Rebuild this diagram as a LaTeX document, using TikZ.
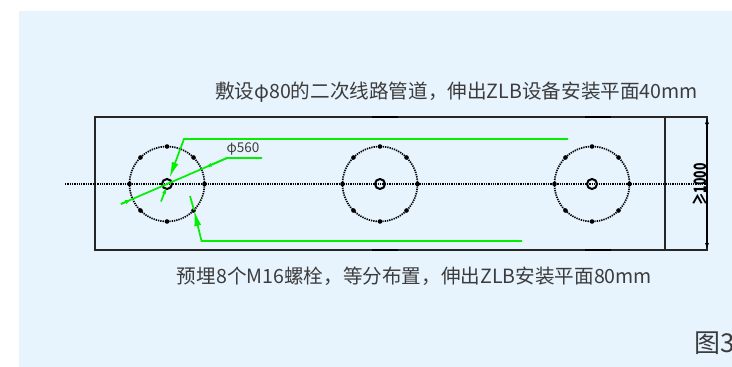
\documentclass[tikz,border=0pt]{standalone}
\usepackage{fontspec}
\setmainfont{Noto Sans CJK SC}
\usetikzlibrary{arrows.meta}
\definecolor{panelblue}{RGB}{231,243,253}
\definecolor{leadgreen}{RGB}{0,240,0}
\definecolor{textgray}{RGB}{60,60,60}
\tikzset{
  outline/.style={line width=1.5pt, draw=black!85},
  centerdots/.style={line width=1.7pt, black, dash pattern=on 1.3pt off 1pt},
  leader/.style={line width=1.7pt, leadgreen},
  bighead/.style={-{Latex[length=16pt,width=7pt]}},
  smallhead/.style={-{Latex[length=8pt,width=4pt]}},
  caption/.style={text=textgray, font=\fontsize{19.6}{22}\selectfont, inner sep=0pt},
}
\begin{document}
\begin{tikzpicture}[x=1pt, y=-1pt]
    \useasboundingbox (0,0) rectangle (732,367);
    \fill[white] (0,0) rectangle (732,367);
    \fill[panelblue] (18.5,11) rectangle (732,367);
    % plate outline
    \draw[outline] (95,117) rectangle (707,250);
    \draw[outline] (665,117) -- (665,250);
    \foreach \x in {372,585} {
        \draw[line width=2.2pt] (\x,117) -- (\x+26,117);
        \draw[line width=2.2pt] (\x,250) -- (\x+26,250);
    }
    \draw[centerdots] (65,184) -- (707,184);
    % pits with bolt circles
    \foreach \x/\name in {167/pitA, 380/pitB, 592/pitC} {
        \coordinate (\name) at (\x,184);
        \draw[centerdots] (\name) circle (37.5);
        \draw[line width=2pt] (\name) circle (5);
        \foreach \a in {0,45,...,315}
            \fill (\name) ++(\a:37.5) circle (2.3);
    }
    % green leaders
    \coordinate (topEnd) at (568,139);
    \coordinate (topBend) at (184,139);
    \coordinate (topTip) at (169.5,178);
    \coordinate (topTail) at (161,201.5);
    \draw[leader, bighead] (topEnd) -- (topBend) -- (topTip);
    \draw[leader, smallhead] (topTail) -- (167,186);
    \coordinate (dimEnd) at (262,158);
    \coordinate (dimBend) at (227,158);
    \coordinate (dimTail) at (121,204);
    \draw[leader] (dimEnd) -- (dimBend) -- (dimTail);
    \draw[leader, smallhead] (dimBend) -- (204,168);
    \draw[leader, smallhead] (dimTail) -- (133,199);
    \coordinate (lowEnd) at (522,241);
    \coordinate (lowBend) at (201.5,241);
    \coordinate (lowTip) at (194,210);
    \coordinate (lowTail) at (190,196);
    \draw[leader, bighead] (lowEnd) -- (lowBend) -- (lowTip);
    \draw[leader] (lowTip) -- (lowTail);
    % dimension at right end
    \coordinate (dimTop) at (707,117);
    \coordinate (dimLow) at (707,250);
    \draw[line width=1.3pt, {Latex[length=7pt,width=4pt]}-{Latex[length=7pt,width=4pt]}] (dimTop) -- (dimLow);
    \node[rotate=90, xscale=0.72, inner sep=0pt, font=\fontsize{17}{18}\selectfont\bfseries] (widthLabel) at (699.5,184.5) {≥1000};
    % labels
    \node[text=textgray, inner sep=0pt, font=\fontsize{13.5}{15}\selectfont] (diaLabel) at (243,148.5) {φ560};
    \node[caption] (upperText) at (456.5,92) {敷设φ80的二次线路管道，伸出ZLB设备安装平面40mm};
    \node[caption] (lowerText) at (414.5,276) {预埋8个M16螺栓，等分布置，伸出ZLB安装平面80mm};
    \node[caption, anchor=west, font=\fontsize{26}{28}\selectfont] (figLabel) at (694,343) {图3};
\end{tikzpicture}
\end{document}
